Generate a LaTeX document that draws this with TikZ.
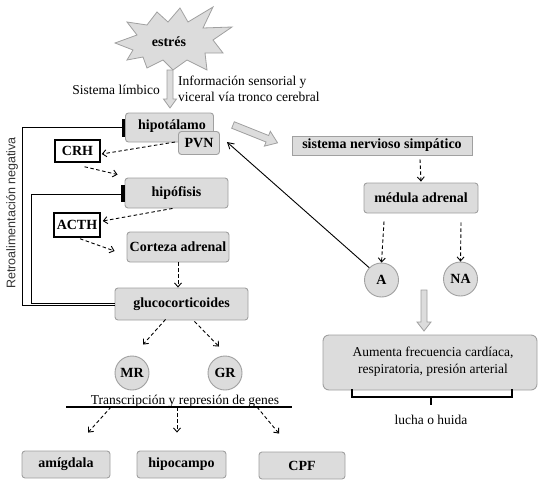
\documentclass[tikz,border=0pt]{standalone}
\usepackage{fontspec}
\setmainfont{Liberation Serif}
\setsansfont{Liberation Sans}
\usetikzlibrary{arrows.meta,calc}
\definecolor{boxfill}{HTML}{DCDCDC}
\definecolor{boxborder}{HTML}{A0A0A0}
\tikzset{
  box/.style={draw=boxborder, fill=boxfill, rounded corners=3pt, line width=0.9pt,
    font=\fontsize{14}{16}\selectfont\bfseries, inner sep=0pt},
  lab/.style={draw=black, line width=1.5pt, fill=white,
    font=\fontsize{14}{16}\selectfont\bfseries, inner sep=0pt},
  circ/.style={circle, draw=boxborder, fill=boxfill, line width=0.9pt,
    font=\fontsize{14}{16}\selectfont\bfseries, inner sep=0pt, minimum size=34pt},
  txt/.style={font=\fontsize{13.5}{15.5}\selectfont, inner sep=0pt},
  btxt/.style={font=\fontsize{14}{16}\selectfont\bfseries, inner sep=0pt},
  darr/.style={dash pattern=on 3.5pt off 2.5pt, line width=0.9pt,
    -{Straight Barb[length=4pt,width=7pt]}},
  hollowarr/.style={draw=boxborder, fill=boxfill, line width=0.8pt},
  fb/.style={line width=0.9pt},
  inhib/.style={line width=3.5pt},
}
\begin{document}
\begin{tikzpicture}[x=1pt,y=-1pt]
\useasboundingbox (0,0) rectangle (545,490);
% starburst
\draw[hollowarr] (115,43) -- (137,35) -- (127,22) -- (147,25) -- (157,12) -- (168,22) -- (180,8)
  -- (188,22) -- (213,7) -- (203,28) -- (232,27) -- (213,40) -- (223,53) -- (205,53) -- (207,70)
  -- (187,60) -- (173,70) -- (163,60) -- (147,68) -- (143,57) -- (127,60) -- (133,50) -- cycle;
\node[btxt] (estres) at (169,42) {estrés};
% top hollow arrow
\draw[hollowarr] (167,70) -- (173,70) -- (173,99) -- (176.5,99) -- (170,108) -- (163.5,99) -- (167,99) -- cycle;
\node[txt, anchor=east] (limb) at (160,90) {Sistema límbico};
\node[txt, anchor=west, align=left] (info) at (178,89) {Información sensorial y\\viceral vía tronco cerebral};

% HPA boxes
\node[box, minimum width=88pt, minimum height=29pt] (hipot) at (169.5,127.5) {};
\node[btxt] (hipott) at (172,126) {hipotálamo};
\node[box, minimum width=41pt, minimum height=23pt] (pvn) at (199,143) {PVN};
\node[lab, minimum width=45pt, minimum height=22pt] (crh) at (77.5,151) {CRH};
\node[box, minimum width=103pt, minimum height=30pt] (hipof) at (176.5,193) {hipófisis};
\node[lab, minimum width=46pt, minimum height=24pt] (acth) at (77,225) {ACTH};
\node[box, minimum width=102pt, minimum height=30pt] (corteza) at (178,247) {Corteza adrenal};
\node[box, minimum width=133pt, minimum height=32pt] (gluco) at (181.5,304) {glucocorticoides};
\node[circ] (mr) at (132,373) {MR};
\node[circ] (gr) at (225,373) {GR};
\coordinate (lineL) at (66,407);
\coordinate (lineR) at (292,407);
\draw[line width=1.2pt] (lineL) -- (lineR);
\node[txt, anchor=base] (transc) at (185,404) {Transcripción y represión de genes};
\node[box, minimum width=88pt, minimum height=27pt] (amig) at (66,464.5) {amígdala};
\node[box, minimum width=89pt, minimum height=27pt] (hipoc) at (181.5,464.5) {hipocampo};
\node[box, minimum width=86pt, minimum height=27pt] (cpf) at (302,465.5) {CPF};

% feedback
\node[font=\sffamily\fontsize{12.5}{14}\selectfont, text=black!80, inner sep=0pt, rotate=90] (retro) at (12,213) {Retroalimentación negativa};
\draw[fb] (gluco.west |- 0,305) -| (22,127) -- (hipot.west |- 0,127);
\draw[fb] (gluco.west |- 0,303) -| (31,194) -- (hipof.west |- 0,194);
\draw[inhib] ($(hipot.west)+(-1.5,-8.5)$) -- ($(hipot.west)+(-1.5,9)$);
\draw[inhib] ($(hipof.west)+(-1.5,-8)$) -- ($(hipof.west)+(-1.5,9)$);

% dashed arrows HPA
\draw[darr] ($(pvn.west)+(-3,-1)$) -- ($(crh.east)+(1,3)$);
\draw[darr] ($(crh.south)+(7,4)$) -- ($(hipof.north west)+(-7,-3)$);
\draw[darr] ($(hipof.south)+(-4,0)$) -- ($(acth.east)+(2,-4)$);
\draw[darr] ($(acth.south)+(3,1)$) -- ($(corteza.west)+(-12,4)$);
\draw[darr] (corteza.south) -- (gluco.north -| corteza.south);
\draw[darr] ($(gluco.south)+(-16,-1)$) -- ($(mr.north)+(11,-11)$);
\draw[darr] ($(gluco.south)+(13,1)$) -- ($(gr.north)+(-6,-9)$);
\draw[darr] ($(lineL)+(45,0)$) -- ($(amig.north)+(22,-18)$);
\draw[darr] ($(lineL)+(111,0)$) -- ($(hipoc.north)+(-4.5,-18)$);
\draw[darr] ($(lineL)+(191,0)$) -- ($(cpf.north)+(-23,-18)$);

% right side
\begin{scope}[shift={(233,125)}, rotate=-21.8]
\draw[hollowarr] (0,-3.5) -- (37,-3.5) -- (37,-8) -- (48,0) -- (37,8) -- (37,3.5) -- (0,3.5) -- cycle;
\end{scope}
\node[box, rounded corners=0pt, minimum width=180pt, minimum height=19pt] (sns) at (382,145.5) {sistema nervioso simpático};
\node[box, minimum width=114pt, minimum height=30pt] (medula) at (421,198) {médula adrenal};
\node[circ] (a) at (381.5,280) {A};
\node[circ] (na) at (460.5,279) {NA};
\draw[darr] ($(sns.south)+(38,4)$) -- ($(medula.north)+(0,-1)$);
\draw[darr] ($(medula.south)+(-37,8)$) -- (a.north);
\draw[darr] ($(medula.south)+(40,9)$) -- (na.north);
\draw[line width=0.9pt, -{Straight Barb[length=6pt,width=7pt]}] (a.north west) -- ($(pvn.east)+(7,-1)$);
\draw[hollowarr] (421,290) -- (427,290) -- (427,322) -- (431,322) -- (424,331) -- (417,322) -- (421,322) -- cycle;
\node[box, rounded corners=6pt, minimum width=214pt, minimum height=55pt] (aum) at (430,362.5) {};
\node[txt, align=center, font=\fontsize{13.5}{17}\selectfont] (aumt) at (433,362) {Aumenta frecuencia cardíaca,\\respiratoria, presión arterial};
\draw[line width=2pt] (352,389) -- (352,397) -- (512,397) -- (512,389);
\draw[line width=2pt] (431,397) -- (431,405);
\node[txt] (lucha) at (431,420) {lucha o huida};
\end{tikzpicture}
\end{document}
